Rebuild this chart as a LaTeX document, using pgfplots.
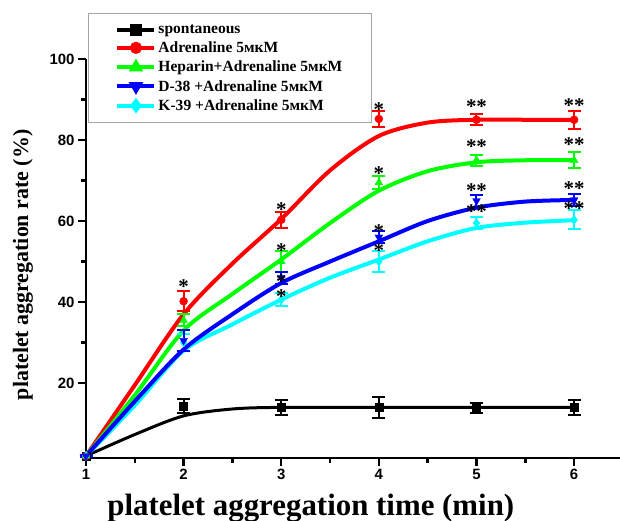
\documentclass[border=0pt]{standalone}
\usepackage{fontspec}
\setmainfont{Liberation Serif}
\setsansfont{Liberation Sans}
\usepackage{pgfplots}
\usepackage{pgfplotstable}
\pgfplotsset{compat=1.18}

\definecolor{cRed}{RGB}{255,0,0}
\definecolor{cGreen}{RGB}{0,255,0}
\definecolor{cBlue}{RGB}{0,0,255}
\definecolor{cCyan}{RGB}{0,255,255}

% measured points (mean, error)
\pgfplotstableread{
x y e
1 2 0.3
2 14.4 1.7
3 14 1.8
4 14 2.6
5 13.8 1.2
6 14 1.9
}\spont
\pgfplotstableread{
x y e
1 2 0.3
2 40.2 2.5
3 60.3 2
4 85.2 1.9
5 85 1.4
6 85 2.2
}\adren
\pgfplotstableread{
x y e
1 2 0.3
2 35.5 1.5
3 50 2.5
4 69.5 1.5
5 75 1.4
6 75 2
}\hep
\pgfplotstableread{
x y e
1 2 0.3
2 30.5 2.5
3 46 1.5
4 56 1.5
5 65 1.5
6 65.2 1.5
}\dtt
\pgfplotstableread{
x y e
1 2 0.3
2 30 2
3 40.6 1.6
4 50 2.7
5 59.5 1.5
6 60.3 2.3
}\ktn
% significance marks
\pgfplotstableread{
x y s
2 44.7 *
3 63.6 *
4 88.3 *
5 89.2 **
6 89.5 **
3 53.7 *
4 72.7 *
5 79.3 **
6 79.7 **
3 45.9 *
4 58.3 *
5 68.5 **
6 69 **
3 42.2 *
4 53.7 *
5 63.2 **
6 64 **
}\stars

\pgfplotsset{
  pts/.style={only marks, mark size=4bp, forget plot,
    error bars/y dir=both, error bars/y explicit,
    error bars/error bar style={line width=2bp},
    error bars/error mark options={rotate=90, mark size=6.5bp, line width=2bp}},
  fitc/.style={smooth, no marks, line width=4bp, forget plot},
}

\begin{document}
\begin{tikzpicture}
\begin{axis}[
  scale only axis, width=534bp, height=399bp,
  xmin=1, xmax=6.47, ymin=1.5, ymax=100,
  clip=false,
  axis x line*=bottom, axis y line*=left,
  axis line style={line width=2.6bp},
  xtick={1,...,6}, ytick={20,40,60,80,100},
  minor x tick num=1, minor y tick num=1,
  tick align=outside,
  major tick length=8bp, minor tick length=5bp,
  every tick/.style={black, line width=2.4bp},
  tick label style={font=\sffamily\bfseries\fontsize{15}{15}\selectfont},
  /pgf/number format/assume math mode=true,
  xlabel={platelet aggregation time (min)},
  ylabel={platelet aggregation rate (\%)},
  xlabel style={font=\bfseries\fontsize{31}{31}\selectfont,
    at={(axis description cs:0.421,-0.145)}, anchor=base},
  ylabel style={font=\bfseries\fontsize{22}{22}\selectfont,
    at={(axis description cs:-0.1086,0.484)}, anchor=base},
  legend image code/.code={\draw[mark repeat=2,mark phase=2,#1]
    plot coordinates {(0bp,0bp) (18.5bp,0bp) (37bp,0bp)};},
  legend cell align=left,
  legend style={at={(axis description cs:0.0037,1.1153)}, anchor=north west,
    draw=gray!70, line width=1bp, fill=white,
    font=\bfseries\fontsize{15.6}{15.6}\selectfont,
    inner xsep=27bp, inner ysep=9bp, row sep=3bp,
    /tikz/every odd column/.append style={column sep=0bp}},
]
\addlegendimage{black, line width=4bp, mark=square*, mark size=4bp}
\addlegendentry{spontaneous}
\addlegendimage{cRed, line width=4bp, mark=*, mark size=4bp}
\addlegendentry{Adrenaline 5мкМ}
\addlegendimage{cGreen, line width=4bp, mark=triangle*, mark size=4.5bp}
\addlegendentry{Heparin+Adrenaline 5мкМ}
\addlegendimage{cBlue, line width=4bp, mark=triangle*, mark size=4.5bp, mark options={rotate=180}}
\addlegendentry{D-38 +Adrenaline 5мкМ}
\addlegendimage{cCyan, line width=4bp, mark=diamond*, mark size=4.5bp}
\addlegendentry{K-39 +Adrenaline 5мкМ}

% fitted curves
\addplot[fitc, black, line width=3bp] coordinates {(1,2)(1.5,7.3)(2,11.9)(2.5,13.6)(3,14)(4,14)(5,14)(6,14)};
\addplot[fitc, cRed] coordinates {(1,2)(1.5,19.5)(2,37)(2.5,49.5)(3,60.5)(3.5,72.5)(4,81)(4.5,84.3)(5,85)(5.5,85)(6,85)};
\addplot[fitc, cGreen] coordinates {(1,2)(1.5,17)(2,33)(2.5,42)(3,50.5)(3.5,59.5)(4,67.5)(4.5,72.3)(5,74.5)(5.5,75)(6,75)};
\addplot[fitc, cCyan] coordinates {(1,2)(1.5,14.5)(2,28)(2.5,34.5)(3,40.6)(3.5,46)(4,50.5)(4.5,55)(5,58.3)(5.5,59.6)(6,60.2)};
\addplot[fitc, cBlue] coordinates {(1,2)(1.5,15.5)(2,28.3)(2.5,37)(3,44.7)(3.5,50)(4,55)(4.5,60)(5,63.3)(5.5,64.8)(6,65.2)};

% data points with error bars
\addplot[pts, black, mark=square*] table[x=x, y=y, y error=e] {\spont};
\addplot[pts, cRed, mark=*] table[x=x, y=y, y error=e] {\adren};
\addplot[pts, cGreen, mark=triangle*, mark size=4.5bp] table[x=x, y=y, y error=e] {\hep};
\addplot[pts, cCyan, mark=diamond*, mark size=4.5bp] table[x=x, y=y, y error=e] {\ktn};
\addplot[pts, cBlue, mark=triangle*, mark size=4.5bp, mark options={rotate=180}] table[x=x, y=y, y error=e] {\dtt};

\addplot[only marks, mark=none, forget plot, nodes near coords,
  point meta=explicit symbolic,
  nodes near coords style={anchor=base, yshift=-10.5bp, black, inner sep=0pt,
    font=\bfseries\fontsize{21}{21}\selectfont}]
  table[x=x, y=y, meta=s] {\stars};

\coordinate (BL) at (axis description cs:-0.16105,-0.15789);
\coordinate (TR) at (axis description cs:1,1.14787);
\end{axis}
\pgfresetboundingbox
\path (BL) rectangle (TR);
\end{tikzpicture}
\end{document}
